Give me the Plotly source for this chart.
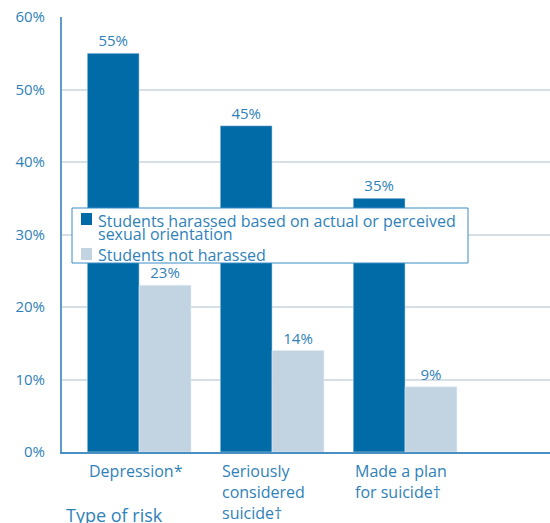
import plotly.graph_objects as go

# Risk categories (label lines joined with <br>)
categories = ["Depression*", "Seriously<br>considered<br>suicide†", "Made a plan<br>for suicide†"]
harassed = [55, 45, 35]
not_harassed = [23, 14, 9]
series_names = ["Students harassed based on actual or perceived\nsexual orientation",
                "Students not harassed"]
y_ticks = [0, 10, 20, 30, 40, 50, 60]

DARK = "#006ba6"
LIGHT = "#c2d4e2"
TEXT = "#2f82b9"
FONT = "Open Sans"

# Plot area geometry in pixels, used to place the key box
W, H = 550, 523
M_L, M_R, M_T, M_B = 62, 0, 17, 71
PW, PH = W - M_L - M_R, H - M_T - M_B


def px_x(x):
    return (x - M_L) / PW


def px_y(y):
    return (H - M_B - y) / PH


x_pos = list(range(len(categories)))

fig = go.Figure()
for vals, name, color in [(harassed, series_names[0], DARK),
                          (not_harassed, series_names[1], LIGHT)]:
    fig.add_trace(go.Bar(
        x=x_pos, y=vals, name=name.replace("\n", " "), marker_color=color,
        text=[f"{v}%" for v in vals], textposition="outside",
        textfont=dict(color=TEXT, size=15, family=FONT), cliponaxis=False,
        showlegend=False,
    ))

bargap = 0.22
half_group = (1 - bargap) / 2

# Category labels, left-aligned with the left edge of each bar group
for i, label in enumerate(categories):
    fig.add_annotation(
        x=i - half_group, xref="x", xanchor="left",
        y=-0.014, yref="paper", yanchor="top",
        text=label, showarrow=False, align="left",
        font=dict(color=TEXT, size=16, family=FONT),
    )

fig.add_annotation(
    x=0.004, xref="paper", xanchor="left",
    y=-0.145, yref="paper", yanchor="middle",
    text="Type of risk", showarrow=False,
    font=dict(color=TEXT, size=18, family=FONT),
)

# Compact key with tight line spacing
shapes = [dict(type="rect", xref="paper", yref="paper",
               x0=px_x(72), x1=px_x(468), y0=px_y(263), y1=px_y(208),
               line=dict(color="#3a8cc4", width=1), fillcolor="white", layer="above")]
key_rows = [(series_names[0], DARK, 213, [221, 234]),
            (series_names[1], LIGHT, 248, [255])]
annotations = []
for name, color, sq_top, line_centers in key_rows:
    shapes.append(dict(type="rect", xref="paper", yref="paper",
                       x0=px_x(81), x1=px_x(92), y0=px_y(sq_top + 12), y1=px_y(sq_top),
                       line=dict(width=0), fillcolor=color, layer="above"))
    for line, yc in zip(name.split("\n"), line_centers):
        annotations.append(dict(
            x=px_x(96), xref="paper", xanchor="left",
            y=px_y(yc), yref="paper", yanchor="middle",
            text=line, showarrow=False,
            font=dict(color=TEXT, size=16, family=FONT),
        ))
for a in annotations:
    fig.add_annotation(**a)

fig.update_layout(
    width=W, height=H,
    margin=dict(l=M_L, r=M_R, t=M_T, b=M_B),
    paper_bgcolor="white", plot_bgcolor="white",
    barmode="group", bargap=bargap, bargroupgap=0,
    font=dict(family=FONT, color=TEXT),
    shapes=shapes,
    xaxis=dict(
        range=[-0.58, 3.09], showticklabels=False, showgrid=False,
        zeroline=False, showline=True, linecolor="#4a8fc2", linewidth=2,
        ticks="", fixedrange=True,
    ),
    yaxis=dict(
        range=[0, 60], tickvals=y_ticks, ticktext=[f"{v}%" for v in y_ticks],
        showgrid=True, gridcolor="#d6dee6", gridwidth=1.5,
        zeroline=False, showline=True, linecolor="#5d9cc9", linewidth=2,
        ticks="", ticklabelstandoff=12,
        tickfont=dict(size=15, color=TEXT, family=FONT),
    ),
)

fig.write_html("out.html")
